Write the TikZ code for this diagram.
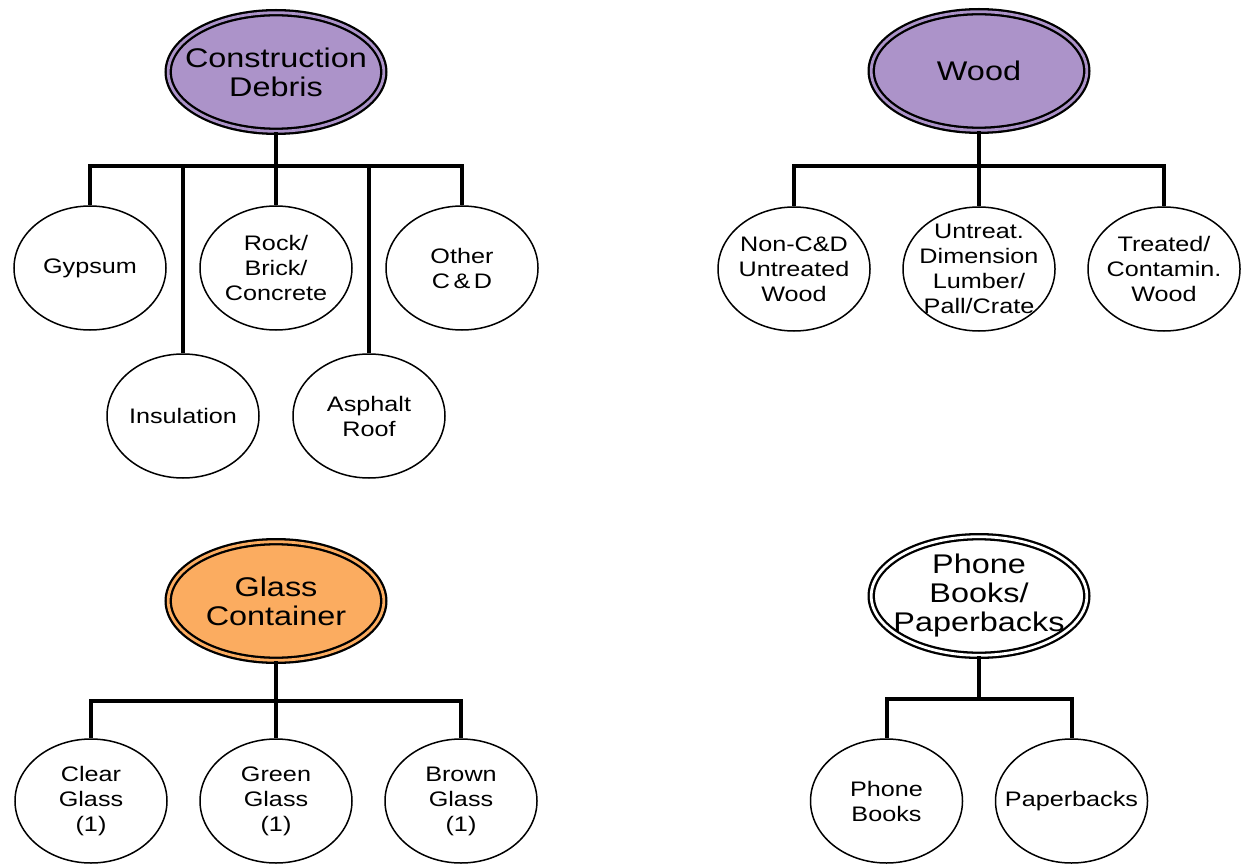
\documentclass[tikz,border=0pt]{standalone}
\usepackage{fontspec}
\setmainfont{Liberation Sans}[FakeStretch=1.2]
\usepackage{tikz}
\usetikzlibrary{shapes.geometric}
\definecolor{cdpurple}{RGB}{172,147,201}
\definecolor{glassorange}{RGB}{251,172,96}

\begin{document}
\begin{tikzpicture}[
    x = 0.5pt, y = -0.5pt,
    root/.style = {ellipse, draw, line width = 1.15pt, double = #1, double distance = 1.4pt,
      fill = #1, minimum width = 107.8pt, minimum height = 59.3pt, inner sep = -8pt,
      align = center, font = \fontsize{13.5}{14.5}\selectfont},
    leaf/.style = {ellipse, draw, fill = white, line width = 0.75pt, minimum width = 76pt,
      minimum height = 62pt, inner sep = -7pt, align = center,
      font = \fontsize{10.5}{12.5}\selectfont},
    bars/.style = {edge from parent path = {(\tikzparentnode.south) -- ++(0,#1)
      -| (\tikzchildnode.north)}},
    edge from parent/.style = {draw, line width = 2pt}
    ]
    \useasboundingbox (0,0) rectangle (1241,866);
    \node[root = cdpurple] (cd) at (276,72) {Construction\\Debris}
      [level distance = 98pt, sibling distance = 46.5pt, bars = 34]
        child {node[leaf] (gyp) {Gypsum}}
        child {node[leaf, yshift = -74pt] (ins) {Insulation}}
        child {node[leaf] (rock) {Rock/\\Brick/\\Concrete}}
        child {node[leaf, yshift = -74pt] (asph) {Asphalt\\Roof}}
        child {node[leaf] (ocd) {Other\\C\,\&\,D}};
    \node[root = cdpurple] (wood) at (979,71) {Wood}
      [level distance = 99pt, sibling distance = 92.5pt, bars = 35]
        child {node[leaf] (nonc) {Non-C\&D\\Untreated\\Wood}}
        child {node[leaf] (untr) {Untreat.\\Dimension\\Lumber/\\Pall/Crate}}
        child {node[leaf] (trt) {Treated/\\Contamin.\\Wood}};
    \node[root = glassorange] (glass) at (276,601) {Glass\\Container}
      [level distance = 100pt, sibling distance = 92.5pt, bars = 40]
        child {node[leaf] (clear) {Clear\\Glass\\(1)}}
        child {node[leaf] (green) {Green\\Glass\\(1)}}
        child {node[leaf] (brown) {Brown\\Glass\\(1)}};
    \node[root = white] (pb) at (979,596) {Phone\\Books/\\Paperbacks}
      [level distance = 102.5pt, sibling distance = 92.5pt, bars = 43]
        child {node[leaf] (phone) {Phone\\Books}}
        child {node[leaf] (paper) {Paperbacks}};
\end{tikzpicture}
\end{document}
